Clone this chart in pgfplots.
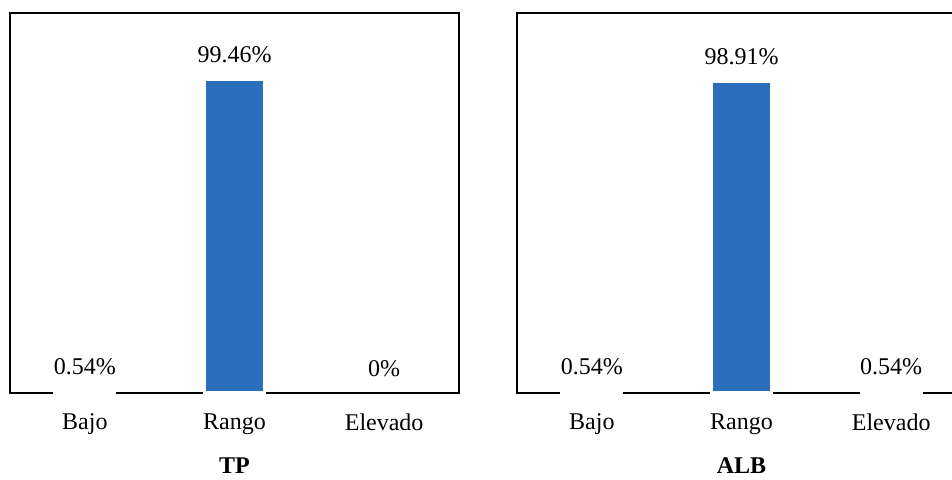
\documentclass[border=0pt,12pt]{standalone}
\usepackage{fontspec}
\setmainfont{Liberation Serif}
\usepackage{pgfplots}
\pgfplotsset{compat=1.18}

\definecolor{barblue}{RGB}{43,110,187}

\pgfplotsset{
  panel/.style={
    anchor=south west,
    scale only axis,
    width=224.5pt, height=190pt,
    xmin=-0.5, xmax=2.5,
    ymin=0, ymax=120.5,
    axis line style={line width=1.3pt},
    xtick={0,1,2},
    xticklabels={Bajo,Rango,Elevado},
    ytick=\empty,
    major tick length=0pt,
    xticklabel style={yshift=-6pt},
    x label style={at={(axis description cs:0.5,0)}, anchor=north, yshift=-28pt},
    clip=false,
  },
  bars/.style={
    ybar, bar width=30pt, fill=barblue, draw=white, line width=1.6pt,
  },
  labels/.style={
    draw=none, mark=none,
    nodes near coords,
    point meta=explicit symbolic,
    every node near coord/.append style={anchor=south, yshift=4pt, black},
  },
}

\begin{document}
\begin{tikzpicture}
\useasboundingbox (0,0) rectangle (476pt,239.5pt);

% left panel
\begin{axis}[panel, at={(5pt,43pt)}, xlabel={\textbf{TP}}]
\addplot[bars] coordinates {(0,0.54) (1,99.46)};
\addplot[labels] coordinates {(0,0.54) [0.54\%] (1,99.46) [99.46\%] (2,0) [0\%]};
\end{axis}

% right panel (cut at the picture's right edge)
\begin{axis}[panel, at={(258.5pt,43pt)}, xlabel={\textbf{ALB}}]
\addplot[bars] coordinates {(0,0.54) (1,98.91) (2,0.54)};
\addplot[labels] coordinates {(0,0.54) [0.54\%] (1,98.91) [98.91\%] (2,0.54) [0.54\%]};
\end{axis}
\end{tikzpicture}
\end{document}
